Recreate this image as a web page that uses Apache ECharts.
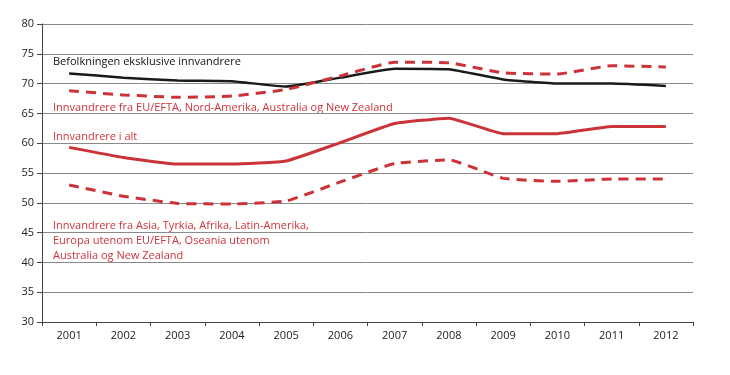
<!DOCTYPE html>
<html>
<head>
<meta charset="utf-8">
<script src="https://cdn.jsdelivr.net/npm/echarts@6/dist/echarts.min.js"></script>
<style>
  html, body { margin: 0; padding: 0; background: #fff; }
  #chart { width: 730px; height: 375px; }
</style>
</head>
<body>
<div id="chart"></div>
<script>
var years = ['2001', '2002', '2003', '2004', '2005', '2006', '2007', '2008', '2009', '2010', '2011', '2012'];
var befolkningUtenInnv = [71.7, 71.0, 70.5, 70.4, 69.5, 71.0, 72.5, 72.4, 70.7, 70.0, 70.0, 69.6];
var innvEuEfta = [68.8, 68.1, 67.7, 67.9, 69.0, 71.3, 73.6, 73.5, 71.8, 71.6, 73.0, 72.8];
var innvIAlt = [59.3, 57.6, 56.5, 56.5, 57.0, 60.1, 63.3, 64.2, 61.6, 61.6, 62.8, 62.8];
var innvAsiaAfrika = [53.0, 51.1, 49.9, 49.8, 50.3, 53.5, 56.6, 57.2, 54.1, 53.6, 54.0, 54.0];

var red = '#cc3339';
var font = 'Open Sans';

var chart = echarts.init(document.getElementById('chart'));
chart.setOption({
    animation: false,
    textStyle: { fontFamily: font },
    grid: { left: 42, right: 37, top: 24, bottom: 53 },
    xAxis: {
        type: 'category',
        data: years,
        boundaryGap: true,
        axisLine: { lineStyle: { color: '#444', width: 1 } },
        axisTick: { show: true, length: 4, lineStyle: { color: '#444' } },
        axisLabel: { color: '#222', fontSize: 11, margin: 8 }
    },
    yAxis: {
        type: 'value',
        min: 30,
        max: 80,
        interval: 5,
        axisLine: { show: true, lineStyle: { color: '#444', width: 1 } },
        axisTick: { show: true, length: 5, lineStyle: { color: '#444' } },
        axisLabel: { color: '#222', fontSize: 11, margin: 8 },
        splitLine: { lineStyle: { color: '#8a8a8a', width: 1 } }
    },
    series: [
        {
            name: 'Befolkningen eksklusive innvandrere',
            type: 'line',
            data: befolkningUtenInnv,
            smooth: 0.12,
            symbol: 'none',
            lineStyle: { color: '#1a1a1a', width: 2.5 }
        },
        {
            name: 'Innvandrere fra EU/EFTA, Nord-Amerika, Australia og New Zealand',
            type: 'line',
            data: innvEuEfta,
            smooth: 0.12,
            symbol: 'none',
            lineStyle: { color: red, width: 3, type: [10, 7] }
        },
        {
            name: 'Innvandrere i alt',
            type: 'line',
            data: innvIAlt,
            smooth: 0.12,
            symbol: 'none',
            lineStyle: { color: red, width: 3 }
        },
        {
            name: 'Innvandrere fra Asia, Tyrkia, Afrika, Latin-Amerika, Europa utenom EU/EFTA, Oseania utenom Australia og New Zealand',
            type: 'line',
            data: innvAsiaAfrika,
            smooth: 0.12,
            symbol: 'none',
            lineStyle: { color: red, width: 3, type: [10, 7] }
        }
    ],
    graphic: [
        {
            type: 'text', left: 53, top: 56,
            style: { text: 'Befolkningen eksklusive innvandrere', fill: '#111', font: '11px "' + font + '"' }
        },
        {
            type: 'text', left: 53, top: 102,
            style: { text: 'Innvandrere fra EU/EFTA, Nord-Amerika, Australia og New Zealand', fill: red, font: '11px "' + font + '"' }
        },
        {
            type: 'text', left: 53, top: 131,
            style: { text: 'Innvandrere i alt', fill: red, font: '11px "' + font + '"' }
        },
        {
            type: 'text', left: 53, top: 218,
            style: {
                text: 'Innvandrere fra Asia, Tyrkia, Afrika, Latin-Amerika,\nEuropa utenom EU/EFTA, Oseania utenom\nAustralia og New Zealand',
                fill: red, font: '11px "' + font + '"', lineHeight: 15
            }
        }
    ]
});
</script>
</body>
</html>
